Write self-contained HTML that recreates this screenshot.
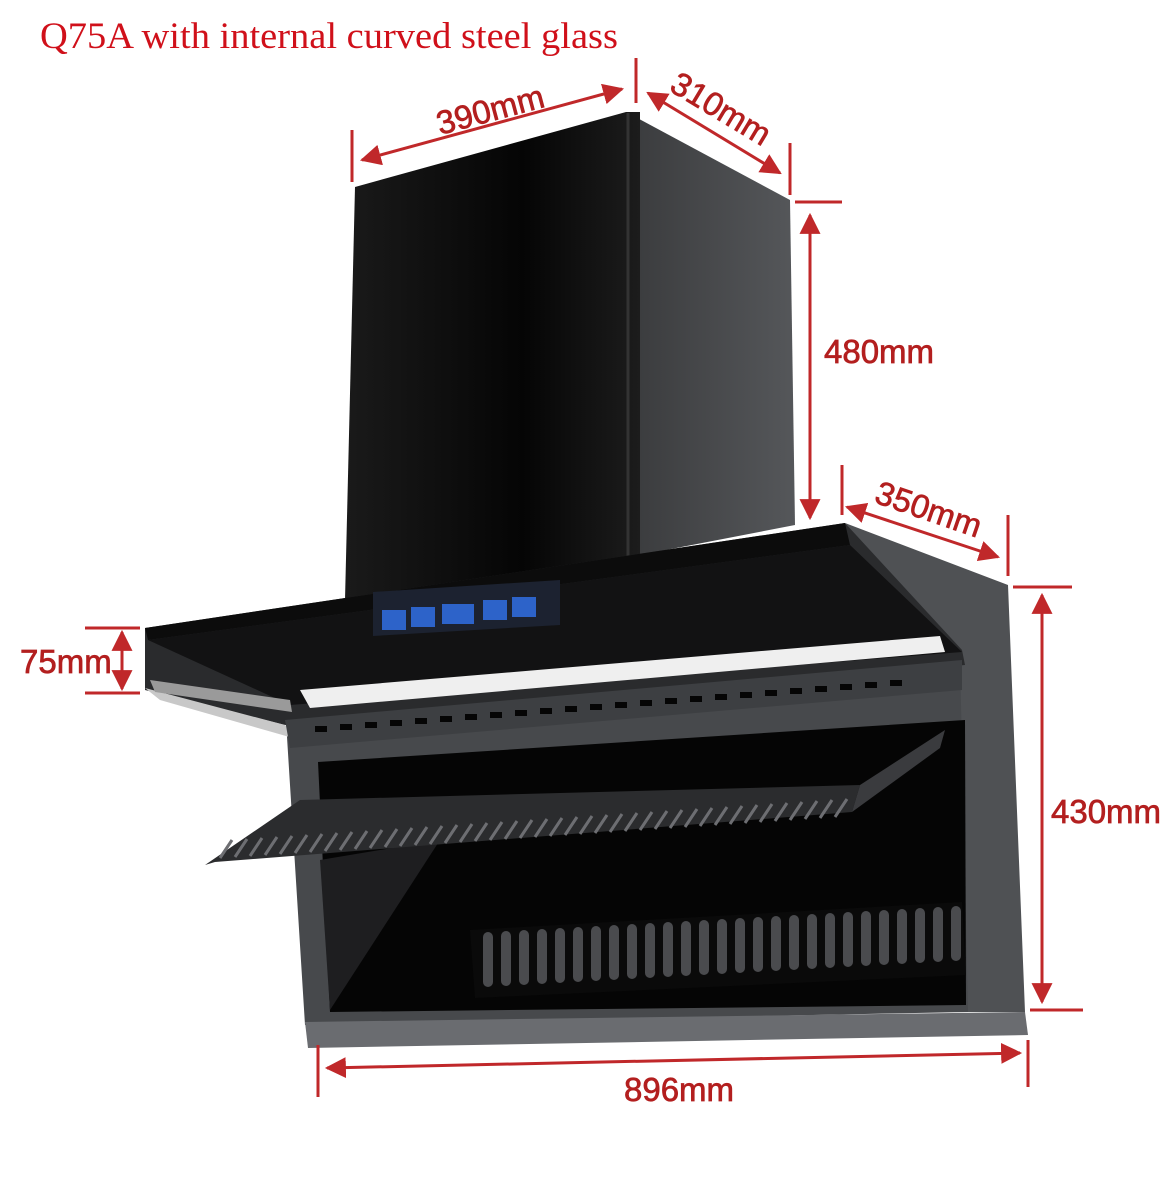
<!DOCTYPE html>
<html><head><meta charset="utf-8"><style>
html,body{margin:0;padding:0;background:#fff}
svg{display:block}
.t{font-family:"Liberation Sans",sans-serif;font-size:33px;fill:#b31f1f;stroke:#b31f1f;stroke-width:0.7}
</style></head><body>
<svg width="1169" height="1181" viewBox="0 0 1169 1181" xmlns="http://www.w3.org/2000/svg">
<defs>
<marker id="a" viewBox="0 0 10 10" refX="9" refY="5" markerWidth="7" markerHeight="7" orient="auto-start-reverse"><path d="M0,0 L10,5 L0,10 z" fill="#c0282a"/></marker>
<linearGradient id="ch" x1="0" y1="0" x2="1" y2="0"><stop offset="0" stop-color="#1a1a1a"/><stop offset="0.6" stop-color="#050505"/><stop offset="1" stop-color="#1c1c1c"/></linearGradient>
<linearGradient id="sd" x1="0" y1="0" x2="1" y2="0"><stop offset="0" stop-color="#3a3b3d"/><stop offset="1" stop-color="#55575a"/></linearGradient>
</defs>
<text x="40" y="48" font-family="Liberation Serif,serif" font-size="37" fill="#d0101a" textLength="578" lengthAdjust="spacingAndGlyphs">Q75A with internal curved steel glass</text>

<!-- chimney -->
<polygon points="628,113 790,200 795,525 640,555 628,555" fill="url(#sd)"/>
<polygon points="355,187 626,112 640,112 640,560 345,600" fill="url(#ch)"/>
<line x1="628" y1="113" x2="628" y2="556" stroke="#333" stroke-width="3"/>

<!-- right side panel -->
<polygon points="845,523 1008,585 1025,1012 960,1012 960,660" fill="#4f5154"/>
<!-- lower body frame -->
<polygon points="285,705 960,660 968,1012 305,1025" fill="#47494c"/>
<polygon points="318,762 965,720 966,1005 330,1012" fill="#050505"/>
<polygon points="320,860 440,840 330,1010" fill="#1e1e20"/>
<!-- bottom grille -->
<polygon points="470,930 962,902 966,975 475,998" fill="#0a0a0a"/>
<g fill="#4a4b4e">
<rect x="483" y="932" width="10" height="55" rx="5"/><rect x="501" y="931" width="10" height="55" rx="5"/><rect x="519" y="930" width="10" height="55" rx="5"/><rect x="537" y="929" width="10" height="55" rx="5"/><rect x="555" y="928" width="10" height="55" rx="5"/><rect x="573" y="927" width="10" height="55" rx="5"/><rect x="591" y="926" width="10" height="55" rx="5"/><rect x="609" y="925" width="10" height="55" rx="5"/><rect x="627" y="924" width="10" height="55" rx="5"/><rect x="645" y="923" width="10" height="55" rx="5"/><rect x="663" y="922" width="10" height="55" rx="5"/><rect x="681" y="921" width="10" height="55" rx="5"/><rect x="699" y="920" width="10" height="55" rx="5"/><rect x="717" y="919" width="10" height="55" rx="5"/><rect x="735" y="918" width="10" height="55" rx="5"/><rect x="753" y="917" width="10" height="55" rx="5"/><rect x="771" y="916" width="10" height="55" rx="5"/><rect x="789" y="915" width="10" height="55" rx="5"/><rect x="807" y="914" width="10" height="55" rx="5"/><rect x="825" y="913" width="10" height="55" rx="5"/><rect x="843" y="912" width="10" height="55" rx="5"/><rect x="861" y="911" width="10" height="55" rx="5"/><rect x="879" y="910" width="10" height="55" rx="5"/><rect x="897" y="909" width="10" height="55" rx="5"/><rect x="915" y="908" width="10" height="55" rx="5"/><rect x="933" y="907" width="10" height="55" rx="5"/><rect x="951" y="906" width="10" height="55" rx="5"/>
</g>
<!-- bottom tray -->
<polygon points="305,1022 1025,1012 1028,1035 308,1048" fill="#6a6c70"/>

<!-- filter flap -->
<polygon points="205,865 300,800 860,785 852,812 215,862" fill="#2b2c2e"/>
<polygon points="860,785 945,730 940,748 852,812" fill="#3a3b3e"/>
<g stroke="#6d6e72" stroke-width="3">
<line x1="220" y1="858" x2="232" y2="840"/><line x1="235" y1="857" x2="247" y2="839"/><line x1="250" y1="856" x2="262" y2="838"/><line x1="265" y1="855" x2="277" y2="837"/><line x1="280" y1="854" x2="292" y2="836"/><line x1="295" y1="853" x2="307" y2="835"/><line x1="310" y1="852" x2="322" y2="834"/><line x1="325" y1="851" x2="337" y2="833"/><line x1="340" y1="850" x2="352" y2="832"/><line x1="355" y1="849" x2="367" y2="831"/><line x1="370" y1="848" x2="382" y2="830"/><line x1="385" y1="847" x2="397" y2="829"/><line x1="400" y1="846" x2="412" y2="828"/><line x1="415" y1="845" x2="427" y2="827"/><line x1="430" y1="844" x2="442" y2="826"/><line x1="445" y1="843" x2="457" y2="825"/><line x1="460" y1="842" x2="472" y2="824"/><line x1="475" y1="841" x2="487" y2="823"/><line x1="490" y1="840" x2="502" y2="822"/><line x1="505" y1="839" x2="517" y2="821"/><line x1="520" y1="838" x2="532" y2="820"/><line x1="535" y1="837" x2="547" y2="819"/><line x1="550" y1="836" x2="562" y2="818"/><line x1="565" y1="835" x2="577" y2="817"/><line x1="580" y1="834" x2="592" y2="816"/><line x1="595" y1="833" x2="607" y2="815"/><line x1="610" y1="832" x2="622" y2="814"/><line x1="625" y1="831" x2="637" y2="813"/><line x1="640" y1="830" x2="652" y2="812"/><line x1="655" y1="829" x2="667" y2="811"/><line x1="670" y1="828" x2="682" y2="810"/><line x1="685" y1="827" x2="697" y2="809"/><line x1="700" y1="826" x2="712" y2="808"/><line x1="715" y1="825" x2="727" y2="807"/><line x1="730" y1="824" x2="742" y2="806"/><line x1="745" y1="823" x2="757" y2="805"/><line x1="760" y1="822" x2="772" y2="804"/><line x1="775" y1="821" x2="787" y2="803"/><line x1="790" y1="820" x2="802" y2="802"/><line x1="805" y1="819" x2="817" y2="801"/><line x1="820" y1="818" x2="832" y2="800"/><line x1="835" y1="817" x2="847" y2="799"/>
</g>

<!-- canopy -->
<polygon points="145,628 845,523 962,650 965,665 285,725 145,690" fill="#2a2b2d"/>
<polygon points="145,628 845,523 850,545 148,640" fill="#0c0c0c"/>
<polygon points="148,640 850,545 962,652 290,705" fill="#121213"/>
<polygon points="300,690 940,636 945,652 310,708" fill="#efefef"/>
<polygon points="145,688 285,725 300,740 160,700" fill="#c8c8c8"/>
<polygon points="150,680 290,700 292,712 155,692" fill="#9a9a9a"/>
<!-- vent strip -->
<polygon points="285,720 962,660 962,690 290,748" fill="#3d3f42"/>
<g fill="#050505">
<rect x="315" y="726" width="12" height="6"/><rect x="340" y="724" width="12" height="6"/><rect x="365" y="722" width="12" height="6"/><rect x="390" y="720" width="12" height="6"/><rect x="415" y="718" width="12" height="6"/><rect x="440" y="716" width="12" height="6"/><rect x="465" y="714" width="12" height="6"/><rect x="490" y="712" width="12" height="6"/><rect x="515" y="710" width="12" height="6"/><rect x="540" y="708" width="12" height="6"/><rect x="565" y="706" width="12" height="6"/><rect x="590" y="704" width="12" height="6"/><rect x="615" y="702" width="12" height="6"/><rect x="640" y="700" width="12" height="6"/><rect x="665" y="698" width="12" height="6"/><rect x="690" y="696" width="12" height="6"/><rect x="715" y="694" width="12" height="6"/><rect x="740" y="692" width="12" height="6"/><rect x="765" y="690" width="12" height="6"/><rect x="790" y="688" width="12" height="6"/><rect x="815" y="686" width="12" height="6"/><rect x="840" y="684" width="12" height="6"/><rect x="865" y="682" width="12" height="6"/><rect x="890" y="680" width="12" height="6"/>
</g>
<!-- control panel -->
<polygon points="373,592 560,580 560,625 373,636" fill="#1c2230"/>
<g fill="#2d63c9">
<rect x="382" y="610" width="24" height="20"/><rect x="411" y="607" width="24" height="20"/><rect x="442" y="604" width="32" height="20"/><rect x="483" y="600" width="24" height="20"/><rect x="512" y="597" width="24" height="20"/>
</g>

<!-- dimensions -->
<g stroke="#c0282a" stroke-width="3" fill="none">
<line x1="352" y1="130" x2="352" y2="182"/><line x1="636" y1="58" x2="636" y2="103"/>
<line x1="362" y1="160" x2="622" y2="89" marker-start="url(#a)" marker-end="url(#a)"/>
<line x1="648" y1="93" x2="780" y2="173" marker-start="url(#a)" marker-end="url(#a)"/>
<line x1="790" y1="143" x2="790" y2="195"/>
<line x1="795" y1="202" x2="842" y2="202"/>
<line x1="810" y1="215" x2="810" y2="518" marker-start="url(#a)" marker-end="url(#a)"/>
<line x1="842" y1="465" x2="842" y2="515"/><line x1="1008" y1="515" x2="1008" y2="576"/>
<line x1="847" y1="507" x2="998" y2="557" marker-start="url(#a)" marker-end="url(#a)"/>
<line x1="1013" y1="587" x2="1072" y2="587"/>
<line x1="1042" y1="595" x2="1042" y2="1002" marker-start="url(#a)" marker-end="url(#a)"/>
<line x1="1030" y1="1010" x2="1083" y2="1010"/>
<line x1="85" y1="628" x2="140" y2="628"/><line x1="85" y1="693" x2="140" y2="693"/>
<line x1="122" y1="632" x2="122" y2="689" marker-start="url(#a)" marker-end="url(#a)"/>
<line x1="318" y1="1045" x2="318" y2="1097"/><line x1="1028" y1="1040" x2="1028" y2="1087"/>
<line x1="327" y1="1068" x2="1020" y2="1053" marker-start="url(#a)" marker-end="url(#a)"/>
</g>
<text class="t" transform="translate(440,135) rotate(-15)">390mm</text>
<text class="t" transform="translate(668,90) rotate(31)">310mm</text>
<text class="t" x="824" y="363">480mm</text>
<text class="t" transform="translate(873,502) rotate(19)">350mm</text>
<text class="t" x="1051" y="823">430mm</text>
<text class="t" x="20" y="673">75mm</text>
<text class="t" x="624" y="1101">896mm</text>
</svg>
</body></html>
